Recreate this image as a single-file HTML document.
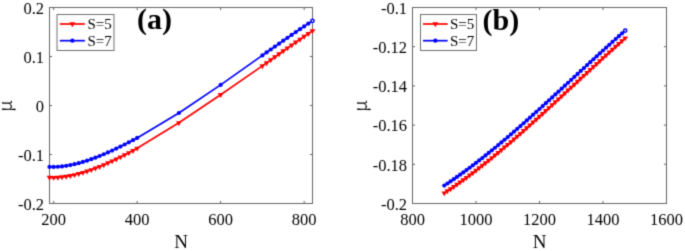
<!DOCTYPE html>
<html><head><meta charset="utf-8"><style>html,body{margin:0;padding:0;background:#fff;}svg{display:block;}text{font-family:"Liberation Serif",serif;}</style></head>
<body>
<svg width="685" height="251" viewBox="0 0 685 251">
<rect width="685" height="251" fill="#fff"/>
<filter id="bl" x="0" y="0" width="685" height="251" filterUnits="userSpaceOnUse" color-interpolation-filters="sRGB"><feConvolveMatrix order="3" kernelMatrix="0.0144 0.1200 0.0144 0.1200 0.4624 0.1200 0.0144 0.1200 0.0144" divisor="1" edgeMode="duplicate"/></filter><g filter="url(#bl)"><rect width="685" height="251" fill="#fff"/>
<path d="M53.67,203.5v-2.6M53.67,7.5v2.6M137.17,203.5v-2.6M137.17,7.5v2.6M220.66,203.5v-2.6M220.66,7.5v2.6M304.15,203.5v-2.6M304.15,7.5v2.6M49.5,203.5h2.6M312.5,203.5h-2.6M49.5,154.5h2.6M312.5,154.5h-2.6M49.5,105.5h2.6M312.5,105.5h-2.6M49.5,56.5h2.6M312.5,56.5h-2.6M49.5,7.5h2.6M312.5,7.5h-2.6" stroke="#666666" stroke-width="1.0" fill="none"/><rect x="49.5" y="7.5" width="263.0" height="196.0" fill="none" stroke="#666666" stroke-width="1.0"/>
<path d="M412.5,203.5v-2.6M412.5,7.5v2.6M476,203.5v-2.6M476,7.5v2.6M539.5,203.5v-2.6M539.5,7.5v2.6M603,203.5v-2.6M603,7.5v2.6M666.5,203.5v-2.6M666.5,7.5v2.6M412.5,203.5h2.6M666.5,203.5h-2.6M412.5,164.3h2.6M666.5,164.3h-2.6M412.5,125.1h2.6M666.5,125.1h-2.6M412.5,85.9h2.6M666.5,85.9h-2.6M412.5,46.7h2.6M666.5,46.7h-2.6M412.5,7.5h2.6M666.5,7.5h-2.6" stroke="#666666" stroke-width="1.0" fill="none"/><rect x="412.5" y="7.5" width="254.0" height="196.0" fill="none" stroke="#666666" stroke-width="1.0"/>
<polyline fill="none" stroke="#ff0000" stroke-width="1.7" stroke-linejoin="round" points="49.5,177.52 53.67,177.54 57.85,177.35 62.02,176.98 66.2,176.42 70.37,175.69 74.55,174.8 78.72,173.75 82.9,172.57 87.07,171.25 91.25,169.81 95.42,168.26 99.6,166.59 103.77,164.83 107.94,162.98 112.12,161.07 116.29,159.09 120.47,157.05 124.64,154.95 128.82,152.79 132.99,150.58 137.17,148.32 178.91,122.82 220.66,94.7 262.4,65.9 266.58,62.91 270.75,59.92 274.93,56.94 279.1,53.97 283.28,51.01 287.45,48.07 291.63,45.14 295.8,42.23 299.98,39.34 304.15,36.48 308.33,33.63 312.5,30.81"/>
<path d="M46.64,175.87L52.36,175.87L49.5,180.82ZM50.82,175.89L56.53,175.89L53.67,180.84ZM54.99,175.7L60.71,175.7L57.85,180.65ZM59.17,175.33L64.88,175.33L62.02,180.28ZM63.34,174.77L69.06,174.77L66.2,179.72ZM67.52,174.04L73.23,174.04L70.37,178.99ZM71.69,173.15L77.41,173.15L74.55,178.1ZM75.86,172.1L81.58,172.1L78.72,177.05ZM80.04,170.92L85.75,170.92L82.9,175.87ZM84.21,169.6L89.93,169.6L87.07,174.55ZM88.39,168.16L94.1,168.16L91.25,173.11ZM92.56,166.61L98.28,166.61L95.42,171.56ZM96.74,164.94L102.45,164.94L99.6,169.89ZM100.91,163.18L106.63,163.18L103.77,168.13ZM105.09,161.33L110.8,161.33L107.94,166.28ZM109.26,159.42L114.98,159.42L112.12,164.37ZM113.44,157.44L119.15,157.44L116.29,162.39ZM117.61,155.4L123.33,155.4L120.47,160.35ZM121.79,153.3L127.5,153.3L124.64,158.25ZM125.96,151.14L131.68,151.14L128.82,156.09ZM130.13,148.93L135.85,148.93L132.99,153.88ZM134.31,146.67L140.02,146.67L137.17,151.62ZM176.05,121.17L181.77,121.17L178.91,126.12ZM217.8,93.05L223.52,93.05L220.66,98ZM259.55,64.25L265.26,64.25L262.4,69.2ZM263.72,61.26L269.44,61.26L266.58,66.21ZM267.9,58.27L273.61,58.27L270.75,63.22ZM272.07,55.29L277.79,55.29L274.93,60.24ZM276.25,52.32L281.96,52.32L279.1,57.27ZM280.42,49.36L286.14,49.36L283.28,54.31ZM284.59,46.42L290.31,46.42L287.45,51.37ZM288.77,43.49L294.48,43.49L291.63,48.44ZM292.94,40.58L298.66,40.58L295.8,45.53ZM297.12,37.69L302.83,37.69L299.98,42.64ZM301.29,34.83L307.01,34.83L304.15,39.78ZM305.47,31.98L311.18,31.98L308.33,36.93ZM309.64,29.16L315.36,29.16L312.5,34.11Z" fill="#ff0000"/>
<polyline fill="none" stroke="#0000ff" stroke-width="1.7" stroke-linejoin="round" points="49.5,166.92 53.67,166.94 57.85,166.75 62.02,166.38 66.2,165.82 70.37,165.09 74.55,164.2 78.72,163.15 82.9,161.97 87.07,160.65 91.25,159.21 95.42,157.66 99.6,156.01 103.77,154.27 107.94,152.44 112.12,150.55 116.29,148.59 120.47,146.57 124.64,144.49 128.82,142.35 132.99,140.16 137.17,137.92 178.91,113.02 220.66,84.9 262.4,55.4 266.58,52.45 270.75,49.5 274.93,46.56 279.1,43.64 283.28,40.72 287.45,37.82 291.63,34.93 295.8,32.07 299.98,29.22 304.15,26.39 308.33,23.59 312.5,20.81"/>
<circle cx="49.5" cy="166.92" r="2.1" fill="#0000ff"/>
<circle cx="53.67" cy="166.94" r="2.1" fill="#0000ff"/>
<circle cx="57.85" cy="166.75" r="2.1" fill="#0000ff"/>
<circle cx="62.02" cy="166.38" r="2.1" fill="#0000ff"/>
<circle cx="66.2" cy="165.82" r="2.1" fill="#0000ff"/>
<circle cx="70.37" cy="165.09" r="2.1" fill="#0000ff"/>
<circle cx="74.55" cy="164.2" r="2.1" fill="#0000ff"/>
<circle cx="78.72" cy="163.15" r="2.1" fill="#0000ff"/>
<circle cx="82.9" cy="161.97" r="2.1" fill="#0000ff"/>
<circle cx="87.07" cy="160.65" r="2.1" fill="#0000ff"/>
<circle cx="91.25" cy="159.21" r="2.1" fill="#0000ff"/>
<circle cx="95.42" cy="157.66" r="2.1" fill="#0000ff"/>
<circle cx="99.6" cy="156.01" r="2.1" fill="#0000ff"/>
<circle cx="103.77" cy="154.27" r="2.1" fill="#0000ff"/>
<circle cx="107.94" cy="152.44" r="2.1" fill="#0000ff"/>
<circle cx="112.12" cy="150.55" r="2.1" fill="#0000ff"/>
<circle cx="116.29" cy="148.59" r="2.1" fill="#0000ff"/>
<circle cx="120.47" cy="146.57" r="2.1" fill="#0000ff"/>
<circle cx="124.64" cy="144.49" r="2.1" fill="#0000ff"/>
<circle cx="128.82" cy="142.35" r="2.1" fill="#0000ff"/>
<circle cx="132.99" cy="140.16" r="2.1" fill="#0000ff"/>
<circle cx="137.17" cy="137.92" r="2.1" fill="#0000ff"/>
<circle cx="178.91" cy="113.02" r="2.1" fill="#0000ff"/>
<circle cx="220.66" cy="84.9" r="2.1" fill="#0000ff"/>
<circle cx="262.4" cy="55.4" r="2.1" fill="#0000ff"/>
<circle cx="266.58" cy="52.45" r="2.1" fill="#0000ff"/>
<circle cx="270.75" cy="49.5" r="2.1" fill="#0000ff"/>
<circle cx="274.93" cy="46.56" r="2.1" fill="#0000ff"/>
<circle cx="279.1" cy="43.64" r="2.1" fill="#0000ff"/>
<circle cx="283.28" cy="40.72" r="2.1" fill="#0000ff"/>
<circle cx="287.45" cy="37.82" r="2.1" fill="#0000ff"/>
<circle cx="291.63" cy="34.93" r="2.1" fill="#0000ff"/>
<circle cx="295.8" cy="32.07" r="2.1" fill="#0000ff"/>
<circle cx="299.98" cy="29.22" r="2.1" fill="#0000ff"/>
<circle cx="304.15" cy="26.39" r="2.1" fill="#0000ff"/>
<circle cx="308.33" cy="23.59" r="2.1" fill="#0000ff"/>
<circle cx="312.5" cy="20.81" r="1.6" fill="#fff" stroke="#0000ff" stroke-width="1.5"/>
<polyline fill="none" stroke="#ff0000" stroke-width="1.7" stroke-linejoin="round" points="444.25,193.07 447.43,190.99 450.6,188.86 453.77,186.68 456.95,184.47 460.12,182.22 463.3,179.94 466.48,177.61 469.65,175.25 472.82,172.86 476,170.43 479.18,167.97 482.35,165.48 485.52,162.96 488.7,160.41 491.88,157.83 495.05,155.23 498.23,152.59 501.4,149.94 504.57,147.26 507.75,144.55 510.93,141.83 514.1,139.08 517.27,136.31 520.45,133.53 523.62,130.73 526.8,127.91 529.98,125.07 533.15,122.22 536.33,119.36 539.5,116.49 542.67,113.6 545.85,110.7 549.02,107.8 552.2,104.88 555.38,101.96 558.55,99.04 561.73,96.11 564.9,93.17 568.08,90.23 571.25,87.29 574.42,84.35 577.6,81.41 580.77,78.47 583.95,75.53 587.12,72.6 590.3,69.67 593.48,66.74 596.65,63.83 599.83,60.92 603,58.01 606.17,55.12 609.35,52.24 612.52,49.37 615.7,46.52 618.88,43.68 622.05,40.85 625.23,38.04"/>
<path d="M441.39,191.42L447.11,191.42L444.25,196.37ZM444.57,189.34L450.28,189.34L447.43,194.29ZM447.74,187.21L453.46,187.21L450.6,192.16ZM450.92,185.03L456.63,185.03L453.77,189.98ZM454.09,182.82L459.81,182.82L456.95,187.77ZM457.27,180.57L462.98,180.57L460.12,185.52ZM460.44,178.29L466.16,178.29L463.3,183.24ZM463.62,175.96L469.33,175.96L466.48,180.91ZM466.79,173.6L472.51,173.6L469.65,178.55ZM469.97,171.21L475.68,171.21L472.82,176.16ZM473.14,168.78L478.86,168.78L476,173.73ZM476.32,166.32L482.03,166.32L479.18,171.27ZM479.49,163.83L485.21,163.83L482.35,168.78ZM482.67,161.31L488.38,161.31L485.52,166.26ZM485.84,158.76L491.56,158.76L488.7,163.71ZM489.02,156.18L494.73,156.18L491.88,161.13ZM492.19,153.58L497.91,153.58L495.05,158.53ZM495.37,150.94L501.08,150.94L498.23,155.89ZM498.54,148.29L504.26,148.29L501.4,153.24ZM501.72,145.61L507.43,145.61L504.57,150.56ZM504.89,142.9L510.61,142.9L507.75,147.85ZM508.07,140.18L513.78,140.18L510.93,145.13ZM511.24,137.43L516.96,137.43L514.1,142.38ZM514.42,134.66L520.13,134.66L517.27,139.61ZM517.59,131.88L523.31,131.88L520.45,136.83ZM520.77,129.08L526.48,129.08L523.62,134.03ZM523.94,126.26L529.66,126.26L526.8,131.21ZM527.12,123.42L532.83,123.42L529.98,128.37ZM530.29,120.57L536.01,120.57L533.15,125.52ZM533.47,117.71L539.18,117.71L536.33,122.66ZM536.64,114.84L542.36,114.84L539.5,119.79ZM539.82,111.95L545.53,111.95L542.67,116.9ZM542.99,109.05L548.71,109.05L545.85,114ZM546.17,106.15L551.88,106.15L549.02,111.1ZM549.34,103.23L555.06,103.23L552.2,108.18ZM552.52,100.31L558.23,100.31L555.38,105.26ZM555.69,97.39L561.41,97.39L558.55,102.34ZM558.87,94.46L564.58,94.46L561.73,99.41ZM562.04,91.52L567.76,91.52L564.9,96.47ZM565.22,88.58L570.93,88.58L568.08,93.53ZM568.39,85.64L574.11,85.64L571.25,90.59ZM571.57,82.7L577.28,82.7L574.42,87.65ZM574.74,79.76L580.46,79.76L577.6,84.71ZM577.92,76.82L583.63,76.82L580.77,81.77ZM581.09,73.88L586.81,73.88L583.95,78.83ZM584.27,70.95L589.98,70.95L587.12,75.9ZM587.44,68.02L593.16,68.02L590.3,72.97ZM590.62,65.09L596.33,65.09L593.48,70.04ZM593.79,62.18L599.51,62.18L596.65,67.13ZM596.97,59.27L602.68,59.27L599.83,64.22ZM600.14,56.36L605.86,56.36L603,61.31ZM603.32,53.47L609.03,53.47L606.17,58.42ZM606.49,50.59L612.21,50.59L609.35,55.54ZM609.67,47.72L615.38,47.72L612.52,52.67ZM612.84,44.87L618.56,44.87L615.7,49.82ZM616.02,42.03L621.73,42.03L618.88,46.98ZM619.19,39.2L624.91,39.2L622.05,44.15ZM622.37,36.39L628.08,36.39L625.23,41.34Z" fill="#ff0000"/>
<polyline fill="none" stroke="#0000ff" stroke-width="1.7" stroke-linejoin="round" points="444.25,185.57 447.43,183.49 450.6,181.36 453.77,179.18 456.95,176.97 460.12,174.72 463.3,172.44 466.48,170.11 469.65,167.75 472.82,165.36 476,162.93 479.18,160.47 482.35,157.98 485.52,155.46 488.7,152.91 491.88,150.33 495.05,147.73 498.23,145.09 501.4,142.44 504.57,139.76 507.75,137.05 510.93,134.33 514.1,131.58 517.27,128.81 520.45,126.03 523.62,123.23 526.8,120.41 529.98,117.57 533.15,114.72 536.33,111.86 539.5,108.99 542.67,106.1 545.85,103.2 549.02,100.3 552.2,97.38 555.38,94.46 558.55,91.54 561.73,88.61 564.9,85.67 568.08,82.73 571.25,79.79 574.42,76.85 577.6,73.91 580.77,70.97 583.95,68.03 587.12,65.1 590.3,62.17 593.48,59.24 596.65,56.33 599.83,53.42 603,50.51 606.17,47.62 609.35,44.74 612.52,41.87 615.7,39.02 618.88,36.18 622.05,33.35 625.23,30.54"/>
<circle cx="444.25" cy="185.57" r="2.1" fill="#0000ff"/>
<circle cx="447.43" cy="183.49" r="2.1" fill="#0000ff"/>
<circle cx="450.6" cy="181.36" r="2.1" fill="#0000ff"/>
<circle cx="453.77" cy="179.18" r="2.1" fill="#0000ff"/>
<circle cx="456.95" cy="176.97" r="2.1" fill="#0000ff"/>
<circle cx="460.12" cy="174.72" r="2.1" fill="#0000ff"/>
<circle cx="463.3" cy="172.44" r="2.1" fill="#0000ff"/>
<circle cx="466.48" cy="170.11" r="2.1" fill="#0000ff"/>
<circle cx="469.65" cy="167.75" r="2.1" fill="#0000ff"/>
<circle cx="472.82" cy="165.36" r="2.1" fill="#0000ff"/>
<circle cx="476" cy="162.93" r="2.1" fill="#0000ff"/>
<circle cx="479.18" cy="160.47" r="2.1" fill="#0000ff"/>
<circle cx="482.35" cy="157.98" r="2.1" fill="#0000ff"/>
<circle cx="485.52" cy="155.46" r="2.1" fill="#0000ff"/>
<circle cx="488.7" cy="152.91" r="2.1" fill="#0000ff"/>
<circle cx="491.88" cy="150.33" r="2.1" fill="#0000ff"/>
<circle cx="495.05" cy="147.73" r="2.1" fill="#0000ff"/>
<circle cx="498.23" cy="145.09" r="2.1" fill="#0000ff"/>
<circle cx="501.4" cy="142.44" r="2.1" fill="#0000ff"/>
<circle cx="504.57" cy="139.76" r="2.1" fill="#0000ff"/>
<circle cx="507.75" cy="137.05" r="2.1" fill="#0000ff"/>
<circle cx="510.93" cy="134.33" r="2.1" fill="#0000ff"/>
<circle cx="514.1" cy="131.58" r="2.1" fill="#0000ff"/>
<circle cx="517.27" cy="128.81" r="2.1" fill="#0000ff"/>
<circle cx="520.45" cy="126.03" r="2.1" fill="#0000ff"/>
<circle cx="523.62" cy="123.23" r="2.1" fill="#0000ff"/>
<circle cx="526.8" cy="120.41" r="2.1" fill="#0000ff"/>
<circle cx="529.98" cy="117.57" r="2.1" fill="#0000ff"/>
<circle cx="533.15" cy="114.72" r="2.1" fill="#0000ff"/>
<circle cx="536.33" cy="111.86" r="2.1" fill="#0000ff"/>
<circle cx="539.5" cy="108.99" r="2.1" fill="#0000ff"/>
<circle cx="542.67" cy="106.1" r="2.1" fill="#0000ff"/>
<circle cx="545.85" cy="103.2" r="2.1" fill="#0000ff"/>
<circle cx="549.02" cy="100.3" r="2.1" fill="#0000ff"/>
<circle cx="552.2" cy="97.38" r="2.1" fill="#0000ff"/>
<circle cx="555.38" cy="94.46" r="2.1" fill="#0000ff"/>
<circle cx="558.55" cy="91.54" r="2.1" fill="#0000ff"/>
<circle cx="561.73" cy="88.61" r="2.1" fill="#0000ff"/>
<circle cx="564.9" cy="85.67" r="2.1" fill="#0000ff"/>
<circle cx="568.08" cy="82.73" r="2.1" fill="#0000ff"/>
<circle cx="571.25" cy="79.79" r="2.1" fill="#0000ff"/>
<circle cx="574.42" cy="76.85" r="2.1" fill="#0000ff"/>
<circle cx="577.6" cy="73.91" r="2.1" fill="#0000ff"/>
<circle cx="580.77" cy="70.97" r="2.1" fill="#0000ff"/>
<circle cx="583.95" cy="68.03" r="2.1" fill="#0000ff"/>
<circle cx="587.12" cy="65.1" r="2.1" fill="#0000ff"/>
<circle cx="590.3" cy="62.17" r="2.1" fill="#0000ff"/>
<circle cx="593.48" cy="59.24" r="2.1" fill="#0000ff"/>
<circle cx="596.65" cy="56.33" r="2.1" fill="#0000ff"/>
<circle cx="599.83" cy="53.42" r="2.1" fill="#0000ff"/>
<circle cx="603" cy="50.51" r="2.1" fill="#0000ff"/>
<circle cx="606.17" cy="47.62" r="2.1" fill="#0000ff"/>
<circle cx="609.35" cy="44.74" r="2.1" fill="#0000ff"/>
<circle cx="612.52" cy="41.87" r="2.1" fill="#0000ff"/>
<circle cx="615.7" cy="39.02" r="2.1" fill="#0000ff"/>
<circle cx="618.88" cy="36.18" r="2.1" fill="#0000ff"/>
<circle cx="622.05" cy="33.35" r="2.1" fill="#0000ff"/>
<circle cx="625.23" cy="30.54" r="1.6" fill="#fff" stroke="#0000ff" stroke-width="1.5"/>
<rect x="57.0" y="14.5" width="57.0" height="36.0" fill="#fff" stroke="#707070" stroke-width="1.0"/>
<line x1="59.8" y1="24" x2="84.9" y2="24" stroke="#ff0000" stroke-width="1.7"/>
<path d="M69.49,22.35L75.21,22.35L72.35,27.3Z" fill="#ff0000"/>
<line x1="59.8" y1="40.7" x2="84.9" y2="40.7" stroke="#0000ff" stroke-width="1.7"/>
<circle cx="72.35" cy="40.7" r="2.1" fill="#0000ff"/>
<text x="87.4" y="29.3" font-size="15">S=5</text>
<text x="87.4" y="46" font-size="15">S=7</text>
<rect x="420.5" y="14.5" width="56.0" height="36.0" fill="#fff" stroke="#707070" stroke-width="1.0"/>
<line x1="423" y1="24" x2="447.7" y2="24" stroke="#ff0000" stroke-width="1.7"/>
<path d="M432.49,22.35L438.21,22.35L435.35,27.3Z" fill="#ff0000"/>
<line x1="423" y1="40.7" x2="447.7" y2="40.7" stroke="#0000ff" stroke-width="1.7"/>
<circle cx="435.35" cy="40.7" r="2.1" fill="#0000ff"/>
<text x="449.9" y="29.3" font-size="15">S=5</text>
<text x="449.9" y="46" font-size="15">S=7</text>
<g font-family="Liberation Serif, serif" fill="#000"><text x="44.1" y="209.8" font-size="16.5" text-anchor="end" font-weight="normal" >-0.2</text>
<text x="44.1" y="160.8" font-size="16.5" text-anchor="end" font-weight="normal" >-0.1</text>
<text x="44.1" y="111.8" font-size="16.5" text-anchor="end" font-weight="normal" >0</text>
<text x="44.1" y="62.8" font-size="16.5" text-anchor="end" font-weight="normal" >0.1</text>
<text x="44.1" y="13.8" font-size="16.5" text-anchor="end" font-weight="normal" >0.2</text>
<text x="53.67" y="225.3" font-size="16.5" text-anchor="middle" font-weight="normal" >200</text>
<text x="137.17" y="225.3" font-size="16.5" text-anchor="middle" font-weight="normal" >400</text>
<text x="220.66" y="225.3" font-size="16.5" text-anchor="middle" font-weight="normal" >600</text>
<text x="304.15" y="225.3" font-size="16.5" text-anchor="middle" font-weight="normal" >800</text>
<text x="407.1" y="209.8" font-size="16.5" text-anchor="end" font-weight="normal" >-0.2</text>
<text x="407.1" y="170.6" font-size="16.5" text-anchor="end" font-weight="normal" >-0.18</text>
<text x="407.1" y="131.4" font-size="16.5" text-anchor="end" font-weight="normal" >-0.16</text>
<text x="407.1" y="92.2" font-size="16.5" text-anchor="end" font-weight="normal" >-0.14</text>
<text x="407.1" y="53" font-size="16.5" text-anchor="end" font-weight="normal" >-0.12</text>
<text x="407.1" y="13.8" font-size="16.5" text-anchor="end" font-weight="normal" >-0.1</text>
<text x="412.5" y="225.3" font-size="16.5" text-anchor="middle" font-weight="normal" >800</text>
<text x="476" y="225.3" font-size="16.5" text-anchor="middle" font-weight="normal" >1000</text>
<text x="539.5" y="225.3" font-size="16.5" text-anchor="middle" font-weight="normal" >1200</text>
<text x="603" y="225.3" font-size="16.5" text-anchor="middle" font-weight="normal" >1400</text>
<text x="666.5" y="225.3" font-size="16.5" text-anchor="middle" font-weight="normal" >1600</text>
<text x="181" y="247.8" font-size="19" text-anchor="middle" font-weight="normal" >N</text>
<text x="539.5" y="247.8" font-size="19" text-anchor="middle" font-weight="normal" >N</text>
<text x="12.2" y="106" font-size="19" text-anchor="middle" font-weight="normal" transform="rotate(-90 12.2 106.0)" style="font-family:'Noto Serif CJK SC',serif">μ</text>
<text x="366.7" y="106" font-size="19" text-anchor="middle" font-weight="normal" transform="rotate(-90 366.7 106.0)" style="font-family:'Noto Serif CJK SC',serif">μ</text>
<text x="137" y="29" font-size="30" text-anchor="start" font-weight="bold" >(a)</text>
<text x="482.5" y="30" font-size="30" text-anchor="start" font-weight="bold" >(b)</text></g>
</g>
</svg>
</body></html>
